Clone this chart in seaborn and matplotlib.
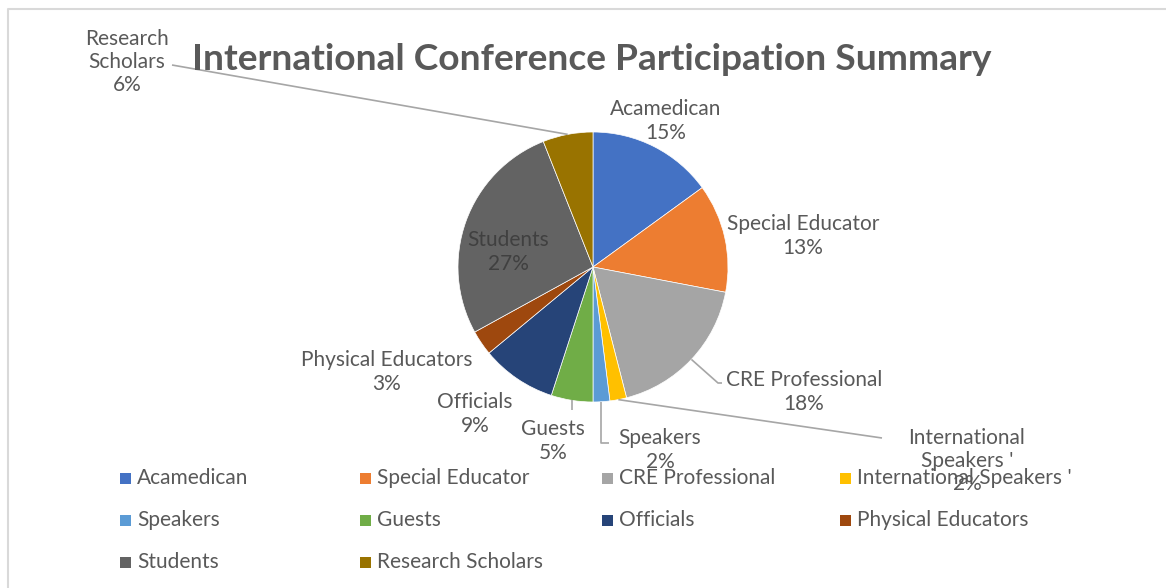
import numpy as np
import matplotlib
matplotlib.use("Agg")
import matplotlib.pyplot as plt
import seaborn as sns
from matplotlib.patches import Rectangle

sns.set_theme(style="white")
plt.rcParams['font.family'] = ['Lato', 'DejaVu Sans']

# ---- data ----
categories = ["Acamedican", "Special Educator", "CRE Professional",
              "International Speakers '", "Speakers", "Guests", "Officials",
              "Physical Educators", "Students", "Research Scholars"]
values = [15, 13, 18, 2, 2, 5, 9, 3, 27, 6]
pct_labels = ["15%", "13%", "18%", "2%", "2%", "5%", "9%", "3%", "27%", "6%"]
slice_labels = ["Acamedican", "Special Educator", "CRE Professional",
                "International\nSpeakers '", "Speakers", "Guests", "Officials",
                "Physical Educators", "Students", "Research\nScholars"]
title = "International Conference Participation Summary"

colors = ["#4472C4", "#ED7D31", "#A5A5A5", "#FFC000", "#5B9BD5",
          "#70AD47", "#264478", "#9E480E", "#636363", "#997300"]
sns.set_palette(colors)

W, H = 1166, 588
fig = plt.figure(figsize=(W / 100, H / 100), dpi=100)
ax = fig.add_axes([0, 0, 1, 1])

def Y(py):
    return H - py

cx, cy, R = 593, Y(267), 135
wedges, _ = ax.pie(values, colors=sns.color_palette(), startangle=90,
                   counterclock=False, center=(cx, cy), radius=R,
                   wedgeprops=dict(linewidth=0.5, edgecolor='white'),
                   frame=True)
ax.set_xlim(0, W)
ax.set_ylim(0, H)
ax.set_aspect('equal')
ax.axis('off')

txt_color = "#595959"
fs = 15

def mid_point(i, r=R):
    cum = sum(values[:i]) + values[i] / 2
    th = np.deg2rad(90 - 360 * cum / sum(values))
    return cx + r * np.cos(th), cy + r * np.sin(th)

# label positions (pixel coords, top-based), text centered
label_pos = {
    0: (666, 121),
    1: (803, 236),
    2: (804, 392),
    3: (967, 461),
    4: (660, 450),
    5: (553, 441),
    6: (475, 414),
    7: (387, 372),
    8: (508, 252),
    9: (127, 62),
}
for i, (px, py) in label_pos.items():
    col = "#404040" if i == 8 else txt_color
    ax.text(px, Y(py), slice_labels[i] + "\n" + pct_labels[i], ha='center',
            va='center', fontsize=fs, color=col, linespacing=1.2)

line_col = "#A6A6A6"
# leader lines
def leader(i, pts):
    x0, y0 = mid_point(i)
    xs = [x0] + [p[0] for p in pts]
    ys = [y0] + [Y(p[1]) for p in pts]
    ax.plot(xs, ys, color=line_col, lw=1.2, solid_capstyle='butt')

leader(9, [(172, 65)])
leader(2, [(718, 383), (722, 383)])
leader(3, [(882, 438)])
sx, _ = mid_point(4)
leader(4, [(sx, 443), (sx + 8, 443)])
gx, _ = mid_point(5)
leader(5, [(gx, 410)])

# title
ax.text(592, Y(60), title, ha='center', va='center', fontsize=26.7,
        fontweight='bold', color=txt_color)

# legend (row-wise, 4 columns)
col_x = [120, 360, 602, 840]
row_y = [478, 520, 562]
for i, name in enumerate(categories):
    r, c = divmod(i, 4)
    x, y = col_x[c], row_y[r]
    ax.add_patch(Rectangle((x, Y(y) - 5.5), 11, 11, color=colors[i], lw=0))
    ax.text(x + 17, Y(y), name, ha='left', va='center', fontsize=fs,
            color=txt_color)

# chart border (top & left visible)
ax.plot([8, 8, W + 5], [-5, Y(8.5), Y(8.5)], color="#D9D9D9", lw=1.5)

fig.savefig("out.png", dpi=100)
